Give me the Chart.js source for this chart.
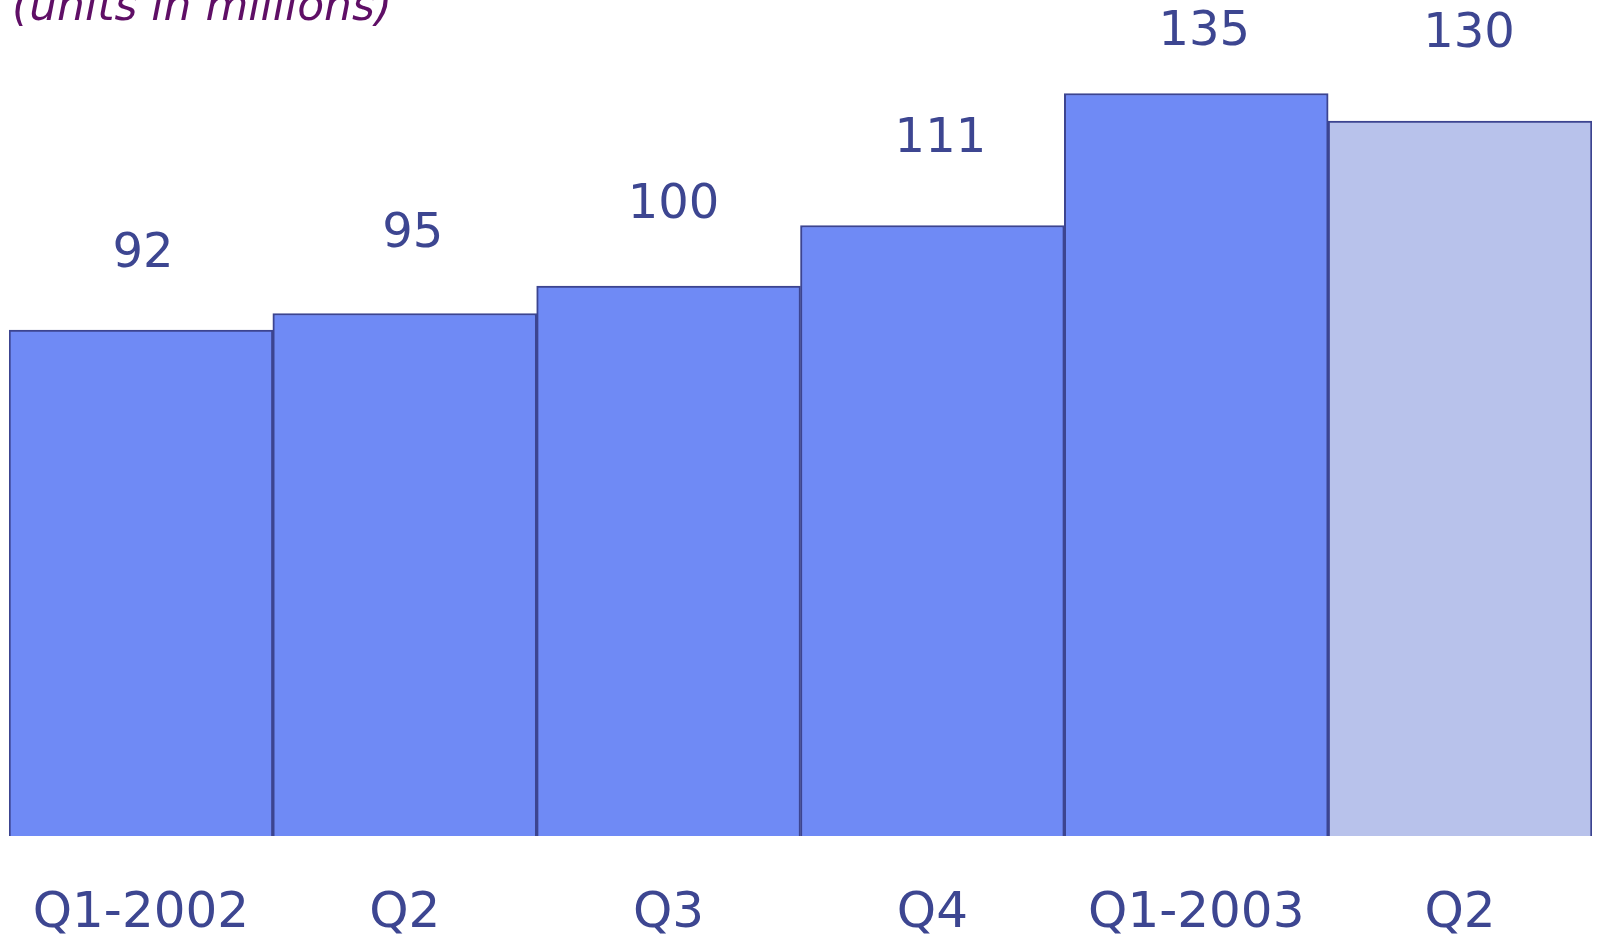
<!DOCTYPE html>
<html>
<head>
<meta charset="utf-8">
<script src="https://cdn.jsdelivr.net/npm/chart.js@4"></script>
<style>
  html, body { margin: 0; padding: 0; background: #ffffff; }
  #wrap { width: 1598px; height: 940px; }
</style>
</head>
<body>
<div id="wrap"><canvas id="c" width="1598" height="940"></canvas></div>
<script>
const categories = ['Q1-2002', 'Q2', 'Q3', 'Q4', 'Q1-2003', 'Q2'];
const units = [92, 95, 100, 111, 135, 130];
const valueLabels = ['92', '95', '100', '111', '135', '130'];
const subtitle = '(units in millions)';

const FONT = 'Verdana, "DejaVu Sans", sans-serif';
const TEXT = '#3d4691';
const barFill = ['#6f8af5', '#6f8af5', '#6f8af5', '#6f8af5', '#6f8af5', '#b8c2eb'];
const labelLift = [75, 79, 80, 86, 61, 86];
const labelShift = [2, 8, 5, 8, 8, 9];

const labelPlugin = {
  id: 'valueLabels',
  afterDatasetsDraw(chart) {
    const ctx = chart.ctx;
    const meta = chart.getDatasetMeta(0);
    const xs = chart.scales.x;
    ctx.save();
    ctx.fillStyle = TEXT;
    ctx.textAlign = 'center';
    ctx.textBaseline = 'middle';
    ctx.font = '48px ' + FONT;
    meta.data.forEach((bar, i) => {
      ctx.fillText(valueLabels[i], bar.x + labelShift[i], bar.y - labelLift[i]);
    });
    ctx.font = '50px ' + FONT;
    categories.forEach((c, i) => {
      ctx.fillText(c, xs.getPixelForValue(i), chart.chartArea.bottom + 78);
    });
    ctx.restore();
  }
};

const subtitlePlugin = {
  id: 'subtitleText',
  afterDraw(chart) {
    const ctx = chart.ctx;
    ctx.save();
    ctx.font = 'italic 44px ' + FONT;
    ctx.fillStyle = '#5f0f66';
    ctx.textAlign = 'left';
    ctx.textBaseline = 'alphabetic';
    ctx.fillText(subtitle, 12, 20);
    ctx.restore();
  }
};

new Chart(document.getElementById('c'), {
  type: 'bar',
  data: {
    labels: categories,
    datasets: [{
      data: units,
      backgroundColor: barFill,
      borderColor: '#3c4490',
      borderWidth: 2,
      borderSkipped: 'start',
      categoryPercentage: 1.0,
      barPercentage: 1.0
    }]
  },
  options: {
    responsive: false,
    animation: false,
    layout: { padding: { left: 9, right: 6, top: 11, bottom: 104 } },
    plugins: { legend: { display: false }, tooltip: { enabled: false } },
    scales: {
      x: {
        grid: { display: false, drawTicks: false },
        border: { display: false },
        ticks: { display: false }
      },
      y: {
        display: false,
        min: 0,
        max: 150
      }
    }
  },
  plugins: [labelPlugin, subtitlePlugin]
});
</script>
</body>
</html>
